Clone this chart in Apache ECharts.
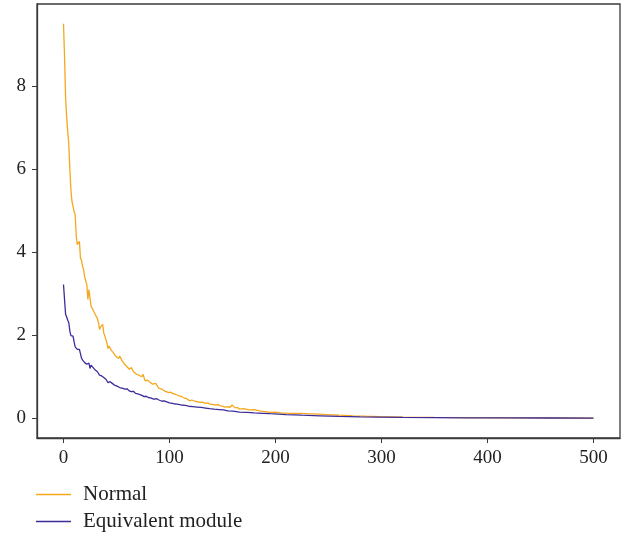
<!DOCTYPE html>
<html>
<head>
<meta charset="utf-8">
<script src="https://cdn.jsdelivr.net/npm/echarts@6/dist/echarts.min.js"></script>
<style>html,body{margin:0;padding:0;background:#fff}#c{width:632px;height:534px}</style>
</head>
<body>
<div id="c"></div>
<script>
const seriesNames = ["Normal", "Equivalent module"];
const xTicks = [0, 100, 200, 300, 400, 500];
const yTicks = [0, 2, 4, 6, 8];

const normalX = [0,1,2,3,4,5,6,7,8,9,10,11,12,13,14,15,16,17,18,19,20,21,22,23,24,25,26,27,28,29,30,31,32,33,34,35,36,37,38,39,40,41,42,43,44,45,46,47,48,49,50,52,53,55,57,58,60,62,64,66,67,69,71,72,74,75,77,79,80,82,84,85,87,88,90,91,93,95,97,99,101,103,105,107,109,111,113,115,117,119,121,124,126,129,131,134,136,138,141,143,146,148,150,152,155,157,159,162,164,166,170,175,180,185,190,195,200,205,213,221,230,240,249,260,273,285,298,320,350,380,420,460,500];
const normalY = [9.50,8.70,7.70,7.25,6.90,6.60,6.00,5.50,5.22,5.18,4.98,4.90,4.40,4.18,4.14,4.26,3.86,3.80,3.66,3.58,3.40,3.30,3.22,2.86,3.10,2.90,2.70,2.66,2.60,2.56,2.50,2.46,2.40,2.30,2.14,2.20,2.18,2.26,2.05,1.98,1.90,1.80,1.68,1.74,1.70,1.64,1.60,1.58,1.54,1.50,1.46,1.44,1.50,1.40,1.32,1.34,1.24,1.18,1.22,1.12,1.15,1.06,1.04,1.02,1.00,1.06,0.90,0.92,0.88,0.86,0.82,0.80,0.84,0.86,0.72,0.68,0.70,0.66,0.64,0.62,0.63,0.60,0.58,0.56,0.54,0.53,0.50,0.48,0.46,0.42,0.44,0.41,0.40,0.38,0.39,0.36,0.37,0.34,0.33,0.32,0.33,0.30,0.29,0.27,0.28,0.26,0.32,0.25,0.26,0.22,0.23,0.20,0.21,0.18,0.16,0.14,0.15,0.13,0.12,0.12,0.11,0.10,0.09,0.075,0.06,0.05,0.04,0.03,0.02,0.015,0.01,0.008,0.005];

const equivX = [0,1,2,3,4,5,6,7,8,9,10,11,12,13,14,15,16,17,18,19,20,22,24,25,26,27,28,30,32,33,34,36,38,40,42,44,46,48,50,53,56,58,60,62,64,66,68,70,72,74,76,78,80,82,85,88,90,93,95,98,100,104,107,111,115,118,122,126,130,134,138,142,147,151,155,160,166,173,180,188,195,203,210,225,242,260,280,298,320,350,380,420,460,500];
const equivY = [3.22,2.85,2.50,2.44,2.36,2.30,2.10,1.99,2.00,1.98,1.84,1.72,1.68,1.66,1.62,1.66,1.64,1.45,1.40,1.38,1.34,1.30,1.33,1.20,1.28,1.24,1.22,1.16,1.12,1.14,1.04,1.02,0.98,0.94,0.86,0.88,0.84,0.80,0.78,0.74,0.72,0.70,0.71,0.66,0.64,0.65,0.60,0.59,0.57,0.55,0.52,0.53,0.50,0.49,0.46,0.47,0.44,0.41,0.42,0.39,0.37,0.35,0.34,0.32,0.31,0.29,0.28,0.27,0.26,0.245,0.23,0.22,0.21,0.20,0.18,0.17,0.15,0.14,0.13,0.12,0.11,0.10,0.09,0.075,0.06,0.045,0.035,0.03,0.02,0.015,0.01,0.008,0.006,0.005];

const zip = (xs, ys) => xs.map((x, i) => [x, ys[i]]);
const FONT = "Liberation Serif";

const chart = echarts.init(document.getElementById('c'), null, {renderer: 'canvas'});
chart.setOption({
  animation: false,
  backgroundColor: '#ffffff',
  grid: {left: 37, top: 4, right: 12, bottom: 96, show: true, borderColor: '#3a3a3a', borderWidth: 1.3, containLabel: false},
  xAxis: {
    type: 'value', min: -25, max: 525,
    axisLine: {show: true, onZero: false, lineStyle: {color: '#3a3a3a', width: 1.3}},
    axisTick: {show: true, inside: false, length: 5, customValues: xTicks, lineStyle: {color: '#3a3a3a'}},
    axisLabel: {customValues: xTicks, margin: 11, color: '#222', fontFamily: FONT, fontSize: 19},
    splitLine: {show: false}
  },
  yAxis: {
    type: 'value', min: -0.475, max: 9.975,
    axisLine: {show: true, onZero: false, lineStyle: {color: '#3a3a3a', width: 1.3}},
    axisTick: {show: true, inside: false, length: 5, customValues: yTicks, lineStyle: {color: '#3a3a3a'}},
    axisLabel: {customValues: yTicks, margin: 11, color: '#222', fontFamily: FONT, fontSize: 19},
    splitLine: {show: false}
  },
  legend: {
    orient: 'vertical', left: 36, top: 484, padding: 0,
    icon: 'rect', itemWidth: 35, itemHeight: 1.5, itemGap: 6,
    textStyle: {fontFamily: FONT, fontSize: 21, color: '#222', lineHeight: 18, padding: [2, 0, 0, 7]},
    data: seriesNames
  },
  series: [
    {name: seriesNames[0], type: 'line', data: zip(normalX, normalY), symbol: 'none', color: '#F5A81C', lineStyle: {width: 1.3, color: '#F5A81C'}, z: 2},
    {name: seriesNames[1], type: 'line', data: zip(equivX, equivY), symbol: 'none', color: '#3C2C9A', lineStyle: {width: 1.3, color: '#3C2C9A'}, z: 3}
  ]
});
</script>
</body>
</html>
